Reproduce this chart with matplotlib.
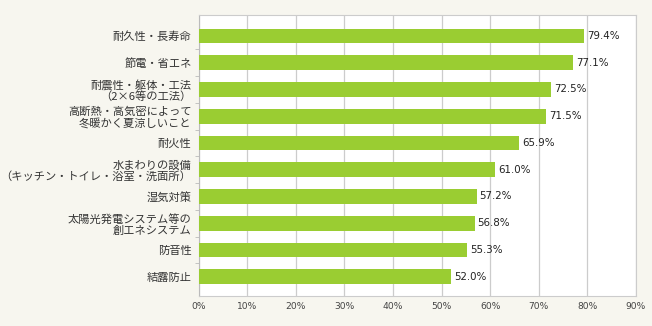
import numpy as np
import matplotlib.pyplot as plt
from matplotlib.ticker import FixedLocator

plt.rcParams['font.family'] = ['Noto Sans CJK JP', 'DejaVu Sans']

# data (top to bottom)
labels = [
    "耐久性・長寿命",
    "節電・省エネ",
    "耐震性・躯体・工法\n（2×6等の工法）",
    "高断熱・高気密によって\n冬暖かく夏涼しいこと",
    "耐火性",
    "水まわりの設備\n（キッチン・トイレ・浴室・洗面所）",
    "湿気対策",
    "太陽光発電システム等の\n創エネシステム",
    "防音性",
    "結露防止",
]
values = [79.4, 77.1, 72.5, 71.5, 65.9, 61.0, 57.2, 56.8, 55.3, 52.0]
xticks = list(range(0, 100, 10))

fig = plt.figure(figsize=(6.52, 3.26), dpi=100, facecolor='#f7f6ef')
ax = fig.add_axes([198.5/652, 1 - 295.5/326, 437.5/652, 280.5/326])
ax.set_facecolor('white')

y = np.arange(len(values))
ax.barh(y, values, height=0.55, color='#9acd32', zorder=3)
for yi, v in zip(y, values):
    ax.text(v + 0.6, yi, f"{v:.1f}%", va='center', ha='left',
            fontsize=7.4, color='#222222', family='DejaVu Sans', zorder=4)

ax.set_xlim(0, 90)
ax.set_ylim(9.70, -0.78)
ax.set_xticks(xticks)
ax.set_xticklabels([f"{t}%" for t in xticks], fontsize=6.6, color='#444444', family='DejaVu Sans')
ax.set_yticks(y)
ax.set_yticklabels(labels, fontsize=8.1, color='#333333', linespacing=1.1)
ax.yaxis.set_minor_locator(FixedLocator(np.arange(0.5, len(values) - 1, 1.0)))
ax.tick_params(axis='y', which='major', length=0, pad=5)
ax.tick_params(axis='y', which='minor', length=3, color='#bbbbbb')
ax.tick_params(axis='x', length=0, pad=5)
ax.grid(axis='x', color='#cccccc', linewidth=0.9, zorder=0)
for s in ax.spines.values():
    s.set_color('#cccccc')
ax.spines['left'].set_color('#bbbbbb')

fig.savefig('out.png', dpi=100, facecolor=fig.get_facecolor())
